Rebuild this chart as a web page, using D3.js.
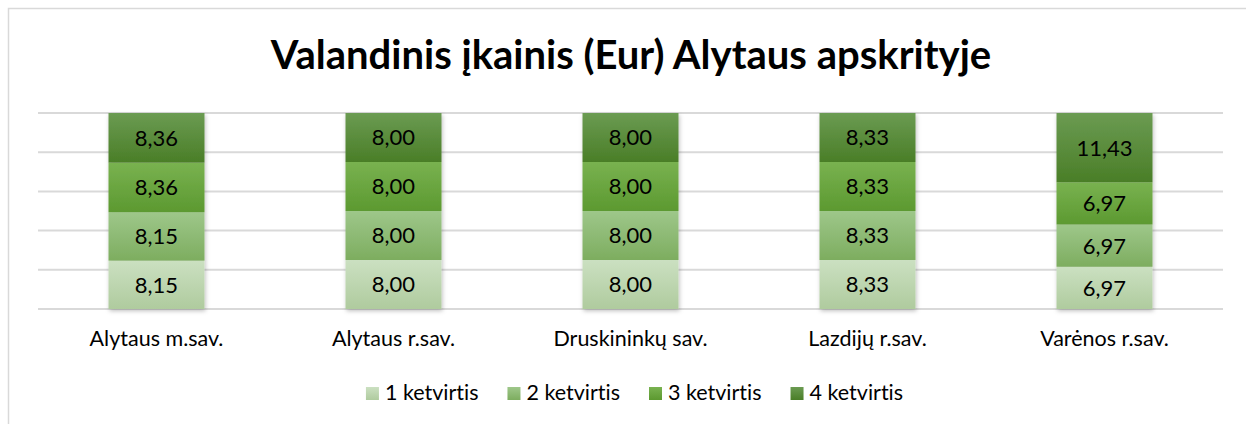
<!DOCTYPE html>
<html>
<head>
<meta charset="utf-8">
<script src="https://cdn.jsdelivr.net/npm/d3@7"></script>
<style>
  body { margin: 0; background: #fff; }
  svg { display: block; font-family: Lato, "Open Sans", sans-serif; font-variant-ligatures: none; }
</style>
</head>
<body>
<div id="vis"></div>
<script>
// chart data
const title = 'Valandinis įkainis (Eur) Alytaus apskrityje';
const municipalities = ['Alytaus m.sav.', 'Alytaus r.sav.', 'Druskininkų sav.', 'Lazdijų r.sav.', 'Varėnos r.sav.'];
const quarters = ['1 ketvirtis', '2 ketvirtis', '3 ketvirtis', '4 ketvirtis'];
const q1 = [8.15, 8.00, 8.00, 8.33, 6.97];
const q2 = [8.15, 8.00, 8.00, 8.33, 6.97];
const q3 = [8.36, 8.00, 8.00, 8.33, 6.97];
const q4 = [8.36, 8.00, 8.00, 8.33, 11.43];
const gridTicks = [0, 0.2, 0.4, 0.6, 0.8, 1];

// gradient colours for each quarter (top, bottom)
const colors = [
    ['#cbe0c1', '#afcb9e'],
    ['#9ec78a', '#7dad5f'],
    ['#79b250', '#5c9930'],
    ['#6b9b52', '#4a7e27']
];

const W = 1246, H = 424;
const plot = { left: 38, right: 1223, top: 113, bottom: 309 };

const svg = d3.select('#vis')
    .append('svg')
    .attr('width', W)
    .attr('height', H);

const defs = svg.append('defs');
colors.forEach((c, i) => {
    const g = defs.append('linearGradient')
        .attr('id', 'grad' + i)
        .attr('x1', 0).attr('y1', 0).attr('x2', 0).attr('y2', 1);
    g.append('stop').attr('offset', '0%').attr('stop-color', c[0]);
    g.append('stop').attr('offset', '100%').attr('stop-color', c[1]);
});
const shadow = defs.append('filter').attr('id', 'shadow')
    .attr('x', '-20%').attr('y', '-5%').attr('width', '140%').attr('height', '115%');
shadow.append('feDropShadow')
    .attr('dx', 1).attr('dy', 2).attr('stdDeviation', 2)
    .attr('flood-color', '#000').attr('flood-opacity', 0.25);

// chart border
svg.append('rect')
    .attr('x', 8.5).attr('y', 8.5)
    .attr('width', W + 20).attr('height', H + 20)
    .attr('fill', 'none')
    .attr('stroke', '#d9d9d9')
    .attr('stroke-width', 1.5);

// title
svg.append('text')
    .attr('x', 631)
    .attr('y', 69)
    .attr('text-anchor', 'middle')
    .attr('font-size', 40)
    .attr('font-weight', 'bold')
    .attr('fill', '#000')
    .text(title);

// table for stacking
const rows = municipalities.map((m, i) => ({
    name: m,
    '1 ketvirtis': q1[i],
    '2 ketvirtis': q2[i],
    '3 ketvirtis': q3[i],
    '4 ketvirtis': q4[i]
}));
const series = d3.stack()
    .keys(quarters)
    .offset(d3.stackOffsetExpand)(rows);

const x = d3.scaleBand()
    .domain(municipalities)
    .range([plot.left, plot.right])
    .paddingInner(0.595)
    .paddingOuter(0.2975);

const y = d3.scaleLinear()
    .domain([0, 1])
    .range([plot.bottom, plot.top]);

// gridlines
svg.append('g')
    .selectAll('line')
    .data(gridTicks)
    .join('line')
    .attr('x1', plot.left)
    .attr('x2', plot.right)
    .attr('y1', d => y(d))
    .attr('y2', d => y(d))
    .attr('stroke', '#d9d9d9')
    .attr('stroke-width', 2);

// bars
const fmt = v => v.toFixed(2).replace('.', ',');
const layers = svg.append('g').attr('filter', 'url(#shadow)');
series.forEach((s, i) => {
    layers.append('g')
        .selectAll('rect')
        .data(s)
        .join('rect')
        .attr('x', d => x(d.data.name))
        .attr('width', x.bandwidth())
        .attr('y', d => y(d[1]))
        .attr('height', d => y(d[0]) - y(d[1]))
        .attr('fill', `url(#grad${i})`);
});

// data labels
series.forEach(s => {
    svg.append('g')
        .selectAll('text')
        .data(s)
        .join('text')
        .attr('x', d => x(d.data.name) + x.bandwidth() / 2)
        .attr('y', d => (y(d[0]) + y(d[1])) / 2)
        .attr('dy', '0.36em')
        .attr('text-anchor', 'middle')
        .attr('font-size', 22)
        .attr('fill', '#000')
        .text(d => fmt(d.data[s.key]));
});

// x axis labels
svg.append('g')
    .attr('transform', `translate(0, ${plot.bottom})`)
    .call(d3.axisBottom(x).tickSize(0).tickPadding(22))
    .call(g => g.select('.domain').remove())
    .selectAll('text')
    .attr('font-size', 21.5)
    .attr('font-family', 'Lato, "Open Sans", sans-serif')
    .attr('fill', '#000');

// legend
const legend = svg.append('g');
const items = legend.selectAll('g')
    .data(quarters)
    .join('g');
items.append('rect')
    .attr('width', 13).attr('height', 13)
    .attr('y', -13)
    .attr('fill', (d, i) => `url(#grad${i})`);
items.append('text')
    .attr('x', 19)
    .attr('font-size', 21.5)
    .attr('fill', '#000')
    .text(d => d);
let lx = 0;
items.each(function () {
    const w = this.getBBox().width;
    d3.select(this).attr('transform', `translate(${lx},0)`);
    lx += w + 29;
});
const totalW = lx - 29;
legend.attr('transform', `translate(${634.5 - totalW / 2}, 400)`);
</script>
</body>
</html>
